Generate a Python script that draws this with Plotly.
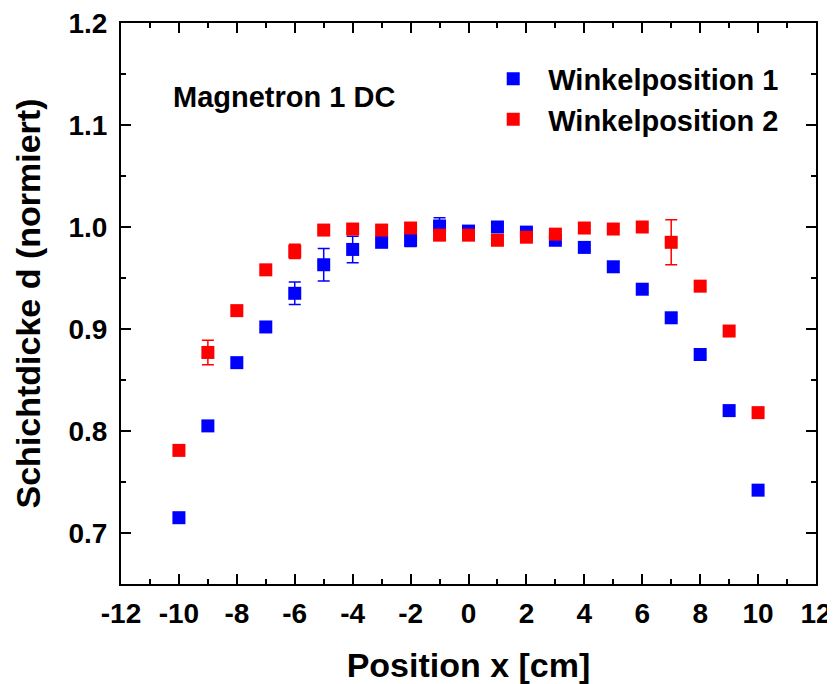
import plotly.graph_objects as go

# ---- data ----
positions = [-10, -9, -8, -7, -6, -5, -4, -3, -2, -1, 0, 1, 2, 3, 4, 5, 6, 7, 8, 9, 10]
winkel1 = [0.715, 0.805, 0.867, 0.902, 0.935, 0.963, 0.978, 0.985, 0.987, 1.001, 0.996,
           1.000, 0.995, 0.987, 0.980, 0.961, 0.939, 0.911, 0.875, 0.820, 0.742]
winkel1_err = [0.002, 0.005, 0.004, 0.002, 0.011, 0.016, 0.013, 0.003, 0.006, 0.008, 0.003,
               0.004, 0.002, 0.002, 0.002, 0.005, 0.003, 0.002, 0.002, 0.004, 0.002]
winkel2 = [0.781, 0.877, 0.918, 0.958, 0.976, 0.997, 0.998, 0.997, 0.999, 0.992, 0.992,
           0.987, 0.990, 0.993, 0.999, 0.998, 1.000, 0.985, 0.942, 0.898, 0.818]
winkel2_err = [0.002, 0.012, 0.004, 0.002, 0.007, 0.002, 0.003, 0.002, 0.002, 0.003, 0.004,
               0.002, 0.003, 0.003, 0.002, 0.002, 0.002, 0.022, 0.003, 0.002, 0.002]
series_names = ["Winkelposition 1", "Winkelposition 2"]
x_ticks = [-12, -10, -8, -6, -4, -2, 0, 2, 4, 6, 8, 10, 12]
y_ticks = [0.7, 0.8, 0.9, 1.0, 1.1, 1.2]

FONT = "Liberation Sans, Arial, sans-serif"

fig = go.Figure()
for name, ys, errs, col in [
    (series_names[0], winkel1, winkel1_err, "#0000FF"),
    (series_names[1], winkel2, winkel2_err, "#FF0000"),
]:
    fig.add_trace(go.Scatter(
        x=positions, y=ys, mode="markers", name=name,
        marker=dict(symbol="square", size=13, color=col, line=dict(width=0)),
        error_y=dict(type="data", array=errs, visible=True, color=col,
                     thickness=1.5, width=6),
    ))

axis_common = dict(
    showline=True, linecolor="black", linewidth=2, mirror="allticks",
    ticks="inside", ticklen=10, tickwidth=2, tickcolor="black",
    showgrid=False, zeroline=False, automargin=False, ticklabeloverflow="allow",
    tickfont=dict(family=FONT, size=28, color="black", weight="bold"),
)

fig.update_xaxes(
    range=[-12, 12], tickvals=x_ticks, ticktext=[str(v) for v in x_ticks],
    minor=dict(ticks="inside", ticklen=5, tickwidth=2, tickcolor="black", dtick=1, tick0=0),
    title=dict(text="<b>Position x [cm]</b>", font=dict(family=FONT, size=34, color="black"),
               standoff=26),
    ticklabelstandoff=3,
    **axis_common,
)
fig.update_yaxes(
    range=[0.65, 1.2], tickvals=y_ticks, ticktext=[f"{v:.1f}" for v in y_ticks],
    minor=dict(ticks="inside", ticklen=5, tickwidth=2, tickcolor="black", dtick=0.05, tick0=0.7),
    title=dict(text="<b>Schichtdicke d (normiert)</b>", font=dict(family=FONT, size=34, color="black"),
               standoff=18),
    ticklabelstandoff=6,
    **axis_common,
)

fig.add_annotation(
    x=-10.26, y=1.127, xref="x", yref="y", xanchor="left", yanchor="middle",
    text="<b>Magnetron 1 DC</b>", showarrow=False,
    font=dict(family=FONT, size=29, color="black"),
)

# the page body adds an 8 px margin, so the figure is 8 px smaller on each axis
fig.update_layout(
    width=827, height=676,
    margin=dict(l=113, r=19, t=15, b=100, autoexpand=False),
    plot_bgcolor="white", paper_bgcolor="white",
    showlegend=True,
    legend=dict(
        x=0.514, y=0.946, xanchor="left", yanchor="top",
        bgcolor="rgba(0,0,0,0)", itemwidth=60,
        font=dict(family=FONT, size=29, color="black", weight="bold"),
        tracegroupgap=0,
    ),
)

fig.write_html("out.html")
